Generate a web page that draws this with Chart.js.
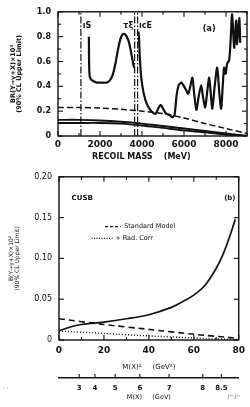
<!DOCTYPE html>
<html>
<head>
<meta charset="utf-8">
<script src="https://cdn.jsdelivr.net/npm/chart.js@4.4.0/dist/chart.umd.min.js"></script>
<style>
html,body{margin:0;padding:0;background:#fff;}
body{width:250px;height:407px;overflow:hidden;position:relative;}
canvas{display:block;}
.mark{position:absolute;font:6px "DejaVu Sans";color:#555;}
</style>
</head>
<body>
<canvas id="topChart" width="250" height="165"></canvas>
<canvas id="bottomChart" width="250" height="242"></canvas>
<div class="mark" style="left:3px;top:384px;">· ·</div>
<div class="mark" style="left:228px;top:393px;">l'':l''</div>
<script>
// ---- (a) upper limit vs recoil mass ----
const massLow = [1470, 1480, 1510, 1600, 1850, 2100, 2320, 2480, 2600, 2730, 2850, 2970, 3080, 3180, 3270, 3370, 3450, 3550, 3620];
const limitLow = [0.80, 0.60, 0.48, 0.45, 0.43, 0.43, 0.43, 0.45, 0.49, 0.58, 0.69, 0.78, 0.82, 0.82, 0.80, 0.76, 0.70, 0.61, 0.55];
const massHigh = [3830, 3860, 3900, 3960, 4020, 4100, 4200, 4350, 4500, 4650, 4800, 4900, 5000, 5150, 5300, 5450, 5550, 5650, 5750, 5880, 6000, 6100, 6200, 6300, 6400, 6480, 6590, 6700, 6820, 6900, 7010, 7100, 7200, 7280, 7350, 7460, 7580, 7680, 7770, 7850, 7910, 7980, 8050, 8150, 8220, 8290, 8390, 8480, 8530, 8630, 8680];
const limitHigh = [0.84, 0.78, 0.62, 0.48, 0.40, 0.33, 0.27, 0.22, 0.19, 0.18, 0.23, 0.25, 0.22, 0.18, 0.17, 0.15, 0.17, 0.33, 0.41, 0.43, 0.40, 0.37, 0.34, 0.40, 0.47, 0.35, 0.21, 0.32, 0.41, 0.32, 0.23, 0.35, 0.47, 0.33, 0.22, 0.40, 0.55, 0.35, 0.22, 0.42, 0.55, 0.50, 0.58, 0.61, 0.77, 0.98, 0.71, 0.93, 0.74, 0.95, 0.75];
const massRef = [0, 1000, 2000, 3000, 4000, 5000, 6000, 7000, 8000, 9000];
const expectedLimit = [0.23, 0.23, 0.225, 0.215, 0.20, 0.18, 0.145, 0.10, 0.06, 0.02];
const bandUpper = [0.13, 0.13, 0.125, 0.115, 0.10, 0.08, 0.06, 0.04, 0.02, 0.0];
const bandLower = [0.105, 0.105, 0.105, 0.10, 0.085, 0.065, 0.045, 0.03, 0.012, 0.0];
const resonanceMass = [1090, 3650, 3790];
const resonanceNames = ['ıS', 'τξ', 'ıcE'];
const massTicks = [0, 2000, 4000, 6000, 8000];
const limitTicks = [0, 0.2, 0.4, 0.6, 0.8, 1.0];

// ---- (b) upper limit vs M(X)^2 ----
const msq = [0, 5, 10, 20, 30, 40, 50, 55, 60, 65, 70, 73, 76, 78.5];
const limitB = [0.011, 0.016, 0.019, 0.022, 0.026, 0.031, 0.040, 0.047, 0.055, 0.067, 0.088, 0.105, 0.127, 0.148];
const msqRef = [0, 20, 40, 60, 80];
const standardModel = [0.026, 0.019, 0.013, 0.007, 0.002];
const radCorr = [0.011, 0.008, 0.005, 0.0025, 0.0005];
const msqTicks = [0, 20, 40, 60, 80];
const bTicks = [0, 0.05, 0.10, 0.15, 0.20];
const mxTicks = [3, 4, 5, 6, 7, 8, 8.5];

const INK = '#111';
const FONT = 'DejaVu Sans';

function pts(xs, ys) {
  return xs.map((x, i) => ({x: x, y: ys[i]}));
}

// frame with inward ticks, extra texts and legend samples
const frame = {
  id: 'frame',
  afterDatasetsDraw(chart, args, opts) {
    const {ctx, chartArea: a, scales} = chart;
    const sx = scales.x, sy = scales.y;
    ctx.save();
    ctx.strokeStyle = INK;
    ctx.lineWidth = 1.4;
    ctx.strokeRect(a.left, a.top, a.right - a.left, a.bottom - a.top);
    ctx.lineWidth = 1.1;
    const seg = (x1, y1, x2, y2) => { ctx.beginPath(); ctx.moveTo(x1, y1); ctx.lineTo(x2, y2); ctx.stroke(); };
    sx.ticks.forEach(t => {
      const p = sx.getPixelForValue(t.value);
      const len = t.label ? 5 : 3;
      seg(p, a.bottom, p, a.bottom - len);
      seg(p, a.top, p, a.top + len);
    });
    sy.ticks.forEach(t => {
      const p = sy.getPixelForValue(t.value);
      const len = t.label ? 5 : 3;
      seg(a.left, p, a.left + len, p);
      seg(a.right, p, a.right - len, p);
    });
    if (scales.x2) {
      const s2 = scales.x2;
      s2.ticks.forEach(t => {
        const p = s2.getPixelForValue(t.value);
        seg(p, s2.top, p, s2.top - 4);
      });
    }
    (opts.samples || []).forEach(s => {
      ctx.setLineDash(s.dash);
      ctx.lineWidth = s.width;
      seg(sx.getPixelForValue(s.x0), sy.getPixelForValue(s.y), sx.getPixelForValue(s.x1), sy.getPixelForValue(s.y));
    });
    ctx.setLineDash([]);
    ctx.fillStyle = INK;
    ctx.textBaseline = 'middle';
    (opts.texts || []).forEach(t => {
      ctx.font = t.font;
      ctx.textAlign = t.align || 'left';
      ctx.fillText(t.text, sx.getPixelForValue(t.x), sy.getPixelForValue(t.y));
    });
    ctx.restore();
  }
};

// ---------- chart (a) ----------
const resonanceSets = resonanceMass.map(m => ({
  data: [{x: m, y: 0}, {x: m, y: 1}],
  borderColor: INK, borderWidth: 1.2, borderDash: [7, 2, 1.5, 2], pointRadius: 0
}));

new Chart(document.getElementById('topChart'), {
  type: 'line',
  data: {
    datasets: resonanceSets.concat([
      {data: pts(massLow, limitLow).concat([{x: 3700, y: null}], pts(massHigh, limitHigh)),
       borderColor: INK, borderWidth: 2.2, pointRadius: 0, tension: 0.25, spanGaps: false},
      {data: pts(massRef, expectedLimit), borderColor: INK, borderWidth: 1.5, borderDash: [6, 3], pointRadius: 0, tension: 0.3},
      {data: pts(massRef, bandUpper), borderColor: INK, borderWidth: 1.9, pointRadius: 0, tension: 0.3},
      {data: pts(massRef, bandLower), borderColor: INK, borderWidth: 1.9, pointRadius: 0, tension: 0.3}
    ])
  },
  options: {
    responsive: false, animation: false, devicePixelRatio: 1,
    layout: {padding: {top: 11, right: 3, left: 0, bottom: 0}},
    plugins: {
      legend: {display: false}, tooltip: {enabled: false},
      frame: {
        texts: [
          {text: '(a)', x: 7200, y: 0.865, font: 'bold 8px ' + FONT, align: 'center'},
          {text: resonanceNames[0], x: 1180, y: 0.89, font: 'bold 8px ' + FONT},
          {text: resonanceNames[1], x: 3580, y: 0.89, font: 'bold 8px ' + FONT, align: 'right'},
          {text: resonanceNames[2], x: 3860, y: 0.89, font: 'bold 8px ' + FONT}
        ]
      }
    },
    scales: {
      x: {
        type: 'linear', min: 0, max: 9000,
        afterBuildTicks: s => { s.ticks = massRef.map(v => ({value: v})); },
        afterFit: s => { s.height = 29; },
        ticks: {autoSkip: false, maxRotation: 0, padding: 3, color: INK,
                font: {family: FONT, size: 9, weight: 'bold'},
                callback: v => massTicks.includes(v) ? String(v) : ''},
        grid: {display: false, drawTicks: false},
        border: {display: false},
        title: {display: true, text: 'RECOIL MASS    (MeV)        ', color: INK,
                font: {family: FONT, size: 8, weight: 'bold'}, padding: {top: 0, bottom: 3}}
      },
      y: {
        min: 0, max: 1,
        afterBuildTicks: s => { s.ticks = [0, 0.1, 0.2, 0.3, 0.4, 0.5, 0.6, 0.7, 0.8, 0.9, 1.0].map(v => ({value: v})); },
        afterFit: s => { s.width = 58; },
        ticks: {autoSkip: false, padding: 7, color: INK,
                font: {family: FONT, size: 8, weight: 'bold'},
                callback: v => {
                  const hit = limitTicks.find(t => Math.abs(t - v) < 1e-6);
                  if (hit === undefined) return '';
                  return hit === 0 ? '0' : hit.toFixed(1);
                }},
        grid: {display: false, drawTicks: false},
        border: {display: false},
        title: {display: true, text: ['BR(Υ→γ+X)×10³', '(90% CL Upper Limit)'], color: INK,
                font: {family: FONT, size: 6.5, weight: 'bold', lineHeight: 0.95}, padding: {top: 10, bottom: 0}}
      }
    }
  },
  plugins: [frame]
});

// ---------- chart (b) ----------
new Chart(document.getElementById('bottomChart'), {
  type: 'line',
  data: {
    datasets: [
      {data: pts(msq, limitB), borderColor: INK, borderWidth: 1.7, pointRadius: 0, tension: 0.35},
      {data: pts(msqRef, standardModel), borderColor: INK, borderWidth: 1.6, borderDash: [6, 4], pointRadius: 0, tension: 0.2},
      {data: pts(msqRef, radCorr), borderColor: INK, borderWidth: 1.4, borderDash: [1, 2], pointRadius: 0, tension: 0.2}
    ]
  },
  options: {
    responsive: false, animation: false, devicePixelRatio: 1,
    layout: {padding: {top: 8, right: 4, left: 0, bottom: 0}},
    plugins: {
      legend: {display: false}, tooltip: {enabled: false},
      frame: {
        samples: [
          {x0: 20.5, x1: 27.5, y: 0.139, dash: [3, 2], width: 1.4},
          {x0: 14.5, x1: 24, y: 0.1245, dash: [1, 1.5], width: 1.1}
        ],
        texts: [
          {text: 'CUSB', x: 5.6, y: 0.174, font: 'bold 7px ' + FONT},
          {text: '(b)', x: 73.5, y: 0.174, font: 'bold 7px ' + FONT},
          {text: 'Standard Model', x: 29, y: 0.139, font: '6.5px ' + FONT},
          {text: '+ Rad. Corr', x: 25, y: 0.1245, font: '6.5px ' + FONT}
        ]
      }
    },
    scales: {
      x: {
        type: 'linear', min: 0, max: 80, weight: 0,
        afterBuildTicks: s => { s.ticks = [0, 10, 20, 30, 40, 50, 60, 70, 80].map(v => ({value: v})); },
        afterFit: s => { s.height = 38; },
        ticks: {autoSkip: false, maxRotation: 0, padding: 5, color: INK,
                font: {family: FONT, size: 9, weight: 'bold'},
                callback: v => msqTicks.includes(v) ? String(v) : ''},
        grid: {display: false, drawTicks: false},
        border: {display: false},
        title: {display: true, text: 'M(X)²     (GeV²)', color: INK,
                font: {family: FONT, size: 7}, padding: {top: 0, bottom: 7}}
      },
      x2: {
        type: 'linear', position: 'bottom', min: 0, max: 80, weight: 1,
        afterBuildTicks: s => { s.ticks = mxTicks.map(m => ({value: m * m})); },
        afterFit: s => { s.height = 29; },
        ticks: {autoSkip: false, maxRotation: 0, padding: 6, color: INK,
                font: {family: FONT, size: 7, weight: 'bold'},
                callback: v => String(Math.round(Math.sqrt(v) * 10) / 10)},
        grid: {display: false, drawTicks: false},
        border: {display: true, color: INK, width: 1.4},
        title: {display: true, text: 'M(X)     (GeV)', color: INK,
                font: {family: FONT, size: 6.5}, padding: {top: 0, bottom: 6}}
      },
      y: {
        min: 0, max: 0.2,
        afterBuildTicks: s => { s.ticks = bTicks.map(v => ({value: v})); },
        afterFit: s => { s.width = 59; },
        ticks: {autoSkip: false, padding: 7, color: INK,
                font: {family: FONT, size: 8},
                callback: v => v === 0 ? '0' : v.toFixed(2)},
        grid: {display: false, drawTicks: false},
        border: {display: false},
        title: {display: true, text: ['B(Υ→γ+X)×10²', '(90% CL Upper Limit)'], color: INK,
                font: {family: FONT, size: 6, lineHeight: 1}, padding: {top: 8, bottom: 0}}
      }
    }
  },
  plugins: [frame]
});
</script>
</body>
</html>
